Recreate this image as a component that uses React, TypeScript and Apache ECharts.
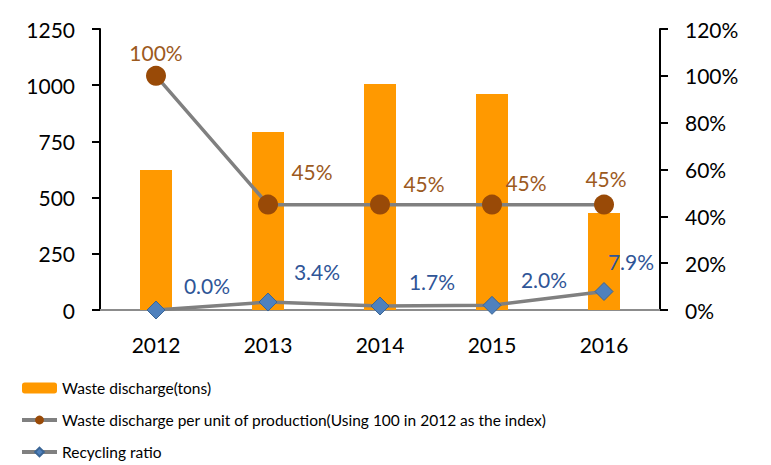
import React, { useEffect, useRef } from "react";
import * as echarts from "echarts";

const years = ["2012", "2013", "2014", "2015", "2016"];
const wasteDischarge = [623, 792, 1005, 961, 431];
const dischargeIndex = [100, 45, 45, 45, 45];
const recyclingRatio = [0.0, 3.4, 1.7, 2.0, 7.9];

const leftTicks = { min: 0, max: 1250, interval: 250 };
const rightTicks = { min: 0, max: 120, interval: 20 };

const FONT = "Lato, 'Open Sans', sans-serif";

const brownOffsets = [[0, 2], [44, -8], [44, 4], [34, 3], [2, -1]];
const blueOffsets = [[51, 0], [49, -6], [52, 0], [52, -1], [27, -5]];

export default function App() {
  const ref = useRef<HTMLDivElement>(null);
  useEffect(() => {
    if (!ref.current) return;
    const chart = echarts.init(ref.current, null, { renderer: "svg" });
    chart.setOption({
      animation: false,
      textStyle: { fontFamily: FONT },
      grid: { left: 100, right: 111, top: 29, bottom: 155, containLabel: false },
      legend: {
        orient: "vertical",
        left: 20,
        top: 380,
        padding: 0,
        height: 84,
        itemWidth: 35,
        itemHeight: 11,
        itemGap: 16,
        textStyle: { fontFamily: FONT, fontSize: 15.5, color: "#000", lineHeight: 16 },
        data: [
          { name: "Waste discharge(tons)" },
          {
            name: "Waste discharge per unit of production(Using 100 in 2012 as the index)",
            lineStyle: { width: 4, color: "#808080" },
          },
          { name: "Recycling ratio", lineStyle: { width: 4, color: "#808080" } },
        ],
      },
      xAxis: {
        type: "category",
        data: years,
        axisLine: { show: true, lineStyle: { color: "#8C8C8C", width: 2 } },
        axisTick: { show: false },
        axisLabel: { color: "#000", fontSize: 21, fontFamily: FONT, margin: 24 },
      },
      yAxis: [
        {
          type: "value",
          min: leftTicks.min,
          max: leftTicks.max,
          interval: leftTicks.interval,
          splitLine: { show: false },
          axisLine: { show: true, lineStyle: { color: "#000", width: 2 } },
          axisTick: { show: true, length: 8, lineStyle: { color: "#000", width: 2 } },
          axisLabel: {
            color: "#000",
            fontSize: 21,
            fontFamily: FONT,
            margin: 25,
            formatter: (v: number) => String(v),
          },
        },
        {
          type: "value",
          min: rightTicks.min,
          max: rightTicks.max,
          interval: rightTicks.interval,
          position: "right",
          splitLine: { show: false },
          axisLine: { show: true, lineStyle: { color: "#000", width: 2 } },
          axisTick: { show: true, length: 8, lineStyle: { color: "#000", width: 2 } },
          axisLabel: { color: "#000", fontSize: 21, fontFamily: FONT, margin: 25, formatter: "{value}%" },
        },
      ],
      series: [
        {
          name: "Waste discharge(tons)",
          type: "bar",
          data: wasteDischarge,
          barWidth: 32,
          itemStyle: { color: "#FF9900" },
        },
        {
          name: "Waste discharge per unit of production(Using 100 in 2012 as the index)",
          type: "line",
          yAxisIndex: 1,
          data: dischargeIndex.map((v, i) => ({
            value: v,
            label: { offset: brownOffsets[i] },
          })),
          symbol: "circle",
          symbolSize: 20,
          lineStyle: { color: "#808080", width: 3.5 },
          itemStyle: { color: "#994A07" },
          label: {
            show: true,
            position: "top",
            color: "#9C5A1E",
            fontSize: 21,
            fontFamily: FONT,
            formatter: (p: any) => `${p.value}%`,
          },
          z: 3,
        },
        {
          name: "Recycling ratio",
          type: "line",
          yAxisIndex: 1,
          data: recyclingRatio.map((v, i) => ({
            value: v,
            label: { offset: blueOffsets[i] },
          })),
          symbol: "diamond",
          symbolSize: 18,
          lineStyle: { color: "#808080", width: 3.5 },
          itemStyle: { color: "#4F81BD", borderColor: "#3A6595", borderWidth: 1 },
          label: {
            show: true,
            position: "top",
            color: "#2F5597",
            fontSize: 21,
            fontFamily: FONT,
            formatter: (p: any) => `${Number(p.value).toFixed(1)}%`,
          },
          z: 4,
        },
      ],
    });
    return () => chart.dispose();
  }, []);
  return <div ref={ref} style={{ width: 771, height: 465, position: "absolute", left: 0, top: 0 }} />;
}
